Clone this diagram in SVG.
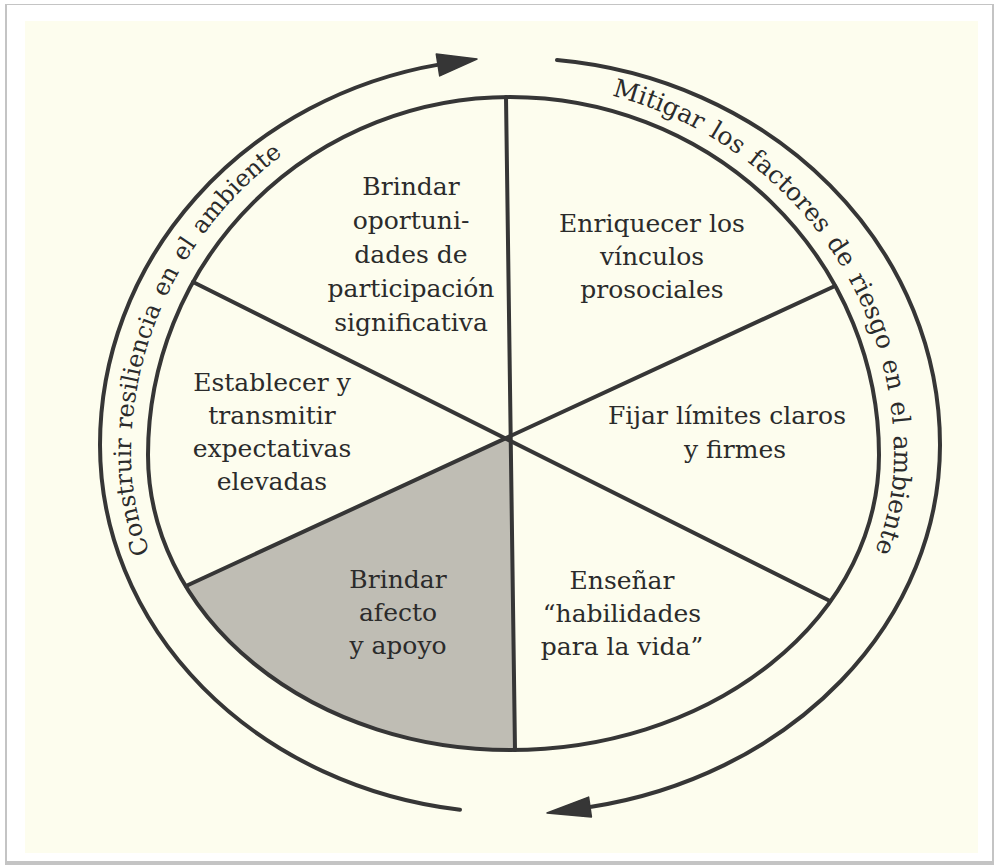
<svg xmlns="http://www.w3.org/2000/svg" width="996" height="867" viewBox="0 0 996 867">
<defs>
<style>
.ln{fill:none;stroke:#363636;stroke-width:4;stroke-linecap:round;stroke-linejoin:round}
.lbl{font-family:"DejaVu Serif","Liberation Serif",serif;font-size:25px;fill:#2b2b2b;text-anchor:middle}
.rl{font-family:"DejaVu Serif","Liberation Serif",serif;font-size:24px;fill:#2b2b2b}
.rr{font-family:"DejaVu Serif","Liberation Serif",serif;font-size:25px;fill:#2b2b2b}
.ah{fill:#363636;stroke:#363636;stroke-width:1.5;stroke-linejoin:round}
</style>
<path id="tpL" d="M 510 767 A 379 312 0 0 1 131 455 A 379 375 0 0 1 510 80"/>
<path id="tpR" d="M 510 82 A 384 373 0 0 1 894 455 A 384 310 0 0 1 510 765"/>
</defs>
<rect width="996" height="867" fill="#ffffff"/>
<rect x="5" y="4" width="989" height="861" fill="#c4c4c4"/>
<rect x="7" y="5" width="985" height="856" fill="#ffffff"/>
<rect x="25" y="21" width="953" height="832" fill="#fdfdee"/>

<g id="wheel">
<path id="shade" d="M 510.5 437 L 186 586 A 362 295 0 0 0 510 750 L 515 750 Z" fill="#bfbdb4"/>
<path class="ln" d="M 510 97 A 369 358 0 0 1 879 455 A 369 295 0 0 1 510 750 A 362 295 0 0 1 148 455 A 362 358 0 0 1 510 97 Z"/>
</g>

<g id="connectors">
<line class="ln" x1="506" y1="97" x2="515" y2="750"/>
<line class="ln" x1="193" y1="282" x2="830" y2="601"/>
<line class="ln" x1="186" y1="586" x2="835" y2="286"/>
<path class="ln" d="M 460 809.8 A 415 368 0 0 1 100 445 A 415 387 0 0 1 440 64.4"/>
<polygon class="ah" points="477,59 436.3,54.1 439.7,75.9"/>
<path class="ln" d="M 557 60 A 425 387 0 0 1 940 445 A 425 368 0 0 1 590 807"/>
<polygon class="ah" points="547,813 591.4,816.9 588.6,797.1"/>
</g>

<g id="ring-left">
<text class="rl"><textPath href="#tpL" startOffset="444">Construir</textPath></text>
<text class="rl"><textPath href="#tpL" startOffset="569.3">resiliencia</textPath></text>
<text class="rl"><textPath href="#tpL" startOffset="706.1">en</textPath></text>
<text class="rl"><textPath href="#tpL" startOffset="746.4">el</textPath></text>
<text class="rl"><textPath href="#tpL" startOffset="778.9">ambiente</textPath></text>
</g>
<g id="ring-right">
<text class="rr"><textPath href="#tpR" startOffset="103">Mitigar</textPath></text>
<text class="rr"><textPath href="#tpR" startOffset="207.6">los</textPath></text>
<text class="rr"><textPath href="#tpR" startOffset="254.4">factores</textPath></text>
<text class="rr"><textPath href="#tpR" startOffset="368">de</textPath></text>
<text class="rr"><textPath href="#tpR" startOffset="409.8">riesgo</textPath></text>
<text class="rr"><textPath href="#tpR" startOffset="499.4">en</textPath></text>
<text class="rr"><textPath href="#tpR" startOffset="541.3">el</textPath></text>
<text class="rr"><textPath href="#tpR" startOffset="574.9">ambiente</textPath></text>
</g>

<g id="n-participacion">
<text class="lbl" x="411" y="195">Brindar</text>
<text class="lbl" x="411" y="229">oportuni-</text>
<text class="lbl" x="411" y="263">dades de</text>
<text class="lbl" x="411" y="297">participación</text>
<text class="lbl" x="411" y="331">significativa</text>
</g>
<g id="n-vinculos">
<text class="lbl" x="652" y="232">Enriquecer los</text>
<text class="lbl" x="652" y="265">vínculos</text>
<text class="lbl" x="652" y="298">prosociales</text>
</g>
<g id="n-limites">
<text class="lbl" x="727" y="424">Fijar límites claros</text>
<text class="lbl" x="735" y="458">y firmes</text>
</g>
<g id="n-habilidades">
<text class="lbl" x="622" y="589">Enseñar</text>
<text class="lbl" x="622" y="622">“habilidades</text>
<text class="lbl" x="622" y="655">para la vida”</text>
</g>
<g id="n-afecto">
<text class="lbl" x="398" y="588">Brindar</text>
<text class="lbl" x="398" y="621">afecto</text>
<text class="lbl" x="398" y="654">y apoyo</text>
</g>
<g id="n-expectativas">
<text class="lbl" x="272" y="391">Establecer y</text>
<text class="lbl" x="272" y="424">transmitir</text>
<text class="lbl" x="272" y="457">expectativas</text>
<text class="lbl" x="272" y="490">elevadas</text>
</g>
</svg>
